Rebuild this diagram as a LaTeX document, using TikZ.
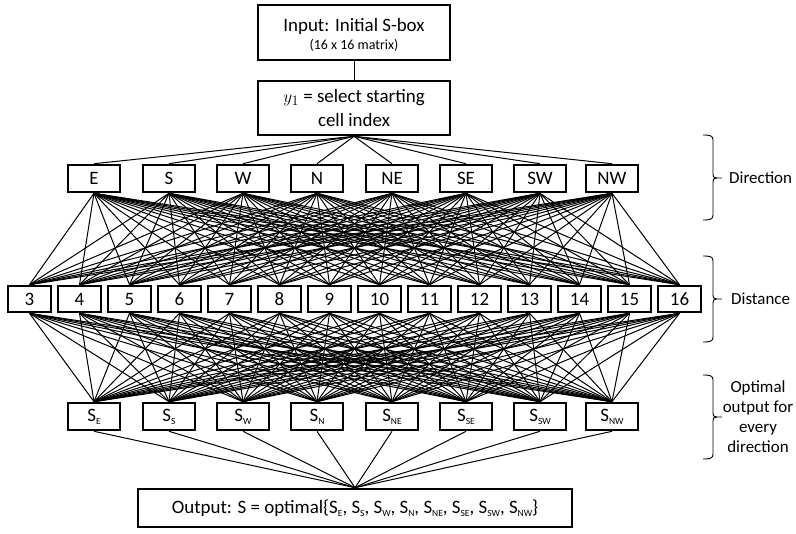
\documentclass[tikz,border=0pt]{standalone}
\usepackage{fontspec}
\setmainfont{Carlito}
\newcommand\lsub[1]{\raisebox{-0.35ex}{\fontsize{9.5}{9.5}\selectfont #1}}
\tikzset{
  box/.style={draw, line width=2.6bp, inner sep=0pt, align=center,
              font=\fontsize{19}{24}\selectfont},
  dirbox/.style={box, minimum width=52bp, minimum height=27bp},
  distbox/.style={box, minimum width=43bp, minimum height=26bp},
  link/.style={line width=1bp},
  sidelabel/.style={font=\fontsize{17}{20}\selectfont, inner sep=0pt, align=center},
}
\begin{document}
\begin{tikzpicture}[x=1bp,y=-1bp]
\useasboundingbox (0,0) rectangle (796,534);

% top two boxes
\node[box, minimum width=192bp, minimum height=55bp] (inp) at (354,32.5) {};
\node[font=\fontsize{19}{24}\selectfont, inner sep=0pt] (inptitle) at (354,26) {Input: Initial S-box};
\node[font=\fontsize{14}{16}\selectfont, inner sep=0pt] (inpsize) at (354,45) {(16 x 16 matrix)};
\node[box, minimum width=192bp, minimum height=54bp] (sel) at (354,108)
  {$y_1$ = select starting\\cell index};
\draw[link] (inp.south) -- (sel.north);

% direction layer and output layer
\foreach \i/\x/\t in {1/94/E, 2/169/S, 3/243/W, 4/317/N, 5/392/NE, 6/466/SE, 7/540/SW, 8/612/NW} {
  \node[dirbox] (dir\i) at (\x,178.5) {\t};
  \node[dirbox] (opt\i) at (\x,416.5) {S\lsub{\t}};
}

% distance layer
\foreach \d in {3,...,16} {
  \node[distbox] (dist\d) at ({29.5+50*(\d-3)},299) {\d};
}

% final output box
\node[box, minimum width=434bp, minimum height=38bp] (out) at (355,508)
  {Output: S = optimal\{S\lsub{E}, S\lsub{S}, S\lsub{W}, S\lsub{N}, S\lsub{NE}, S\lsub{SE}, S\lsub{SW}, S\lsub{NW}\}};

% full connections between layers
\foreach \i in {1,...,8} {
  \draw[link] (sel.south) -- (dir\i.north);
  \draw[link] (opt\i.south) -- (out.north);
  \foreach \d in {3,...,16} {
    \draw[link] (dir\i.south) -- (dist\d.north);
    \draw[link] (dist\d.south) -- (opt\i.north);
  }
}

% side braces with labels
\foreach \t/\m/\b in {135/178/220, 256/299/342, 375/417/459} {
  \draw[line width=0.9bp]
    (703,\t) .. controls (711,\t) and (713,\t+1) .. (713,\t+5) -- (713,\m-4)
    .. controls (713,\m-1) .. (717,\m) -- (722,\m)
    (717,\m) .. controls (713,\m+1) .. (713,\m+4) -- (713,\b-5)
    .. controls (713,\b-1) and (711,\b) .. (703,\b);
}
\node[sidelabel, anchor=west] (lbldir) at (729,178) {Direction};
\node[sidelabel, anchor=west] (lbldist) at (731,299) {Distance};
\node[sidelabel] (lblopt) at (758,417) {Optimal\\output for\\every\\direction};
\end{tikzpicture}
\end{document}
